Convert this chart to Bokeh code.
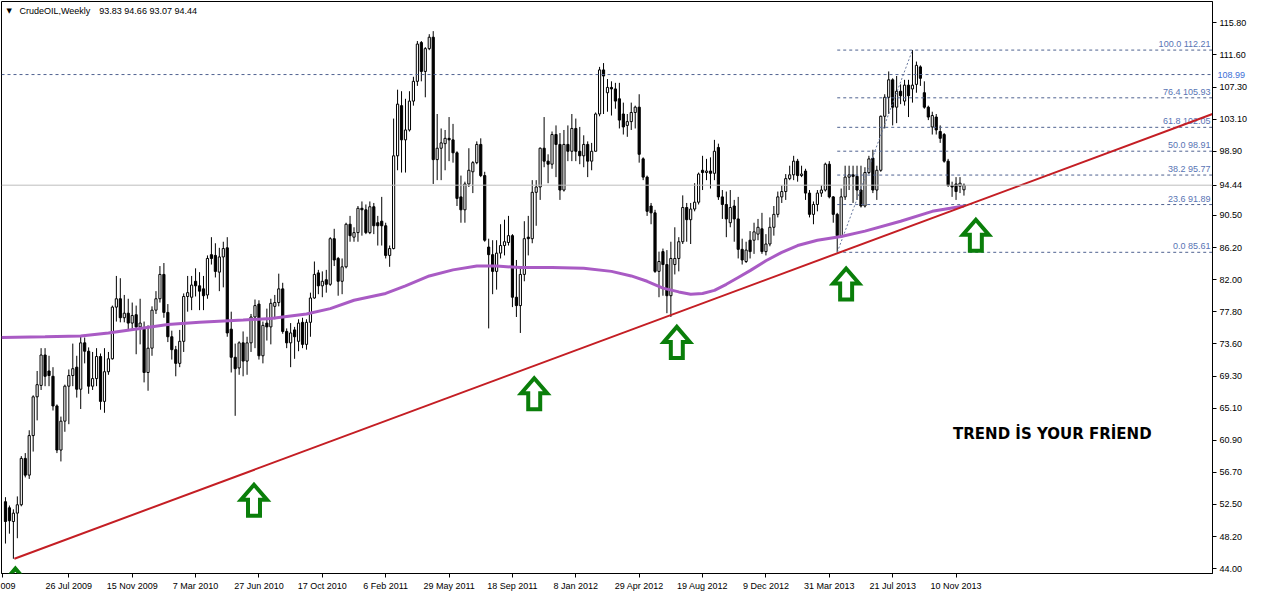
from bokeh.plotting import figure
from bokeh.models import (Range1d, FixedTicker, PrintfTickFormatter, Span, Label, LinearAxis,
                          PolyAnnotation, ColumnDataSource)
from bokeh.embed import file_html
from bokeh.resources import INLINE
from bokeh.core.properties import value

# ---------------- data (weekly bars, index 0 = first visible week) ----------------
opens = [52.8, 52.0, 50.2, 51.3, 52.4, 58.5, 56.3, 61.5, 66.6, 68.1,
         72.1, 70.0, 69.3, 65.4, 59.6, 63.4, 68.0, 69.4, 70.5, 67.6,
         73.7, 72.6, 68.0, 69.0, 71.9, 66.0, 69.9, 71.6, 78.4, 79.5,
         77.0, 77.6, 76.3, 77.4, 75.8, 75.5, 69.8, 73.0, 78.0, 79.5,
         82.7, 77.7, 74.5, 72.8, 71.0, 73.9, 79.8, 79.7, 81.8, 81.2,
         80.8, 80.0, 85.3, 85.2, 83.0, 85.0, 86.2, 75.5, 71.8, 70.4,
         73.7, 71.3, 73.7, 77.1, 78.8, 72.0, 76.3, 75.8, 78.5, 79.0,
         80.8, 75.2, 73.7, 75.4, 73.9, 76.4, 73.5, 76.4, 79.6, 82.9,
         81.2, 82.0, 81.4, 87.4, 84.8, 81.8, 83.7, 89.3, 87.6, 88.2,
         91.4, 91.2, 88.2, 91.6, 89.5, 89.7, 89.1, 85.2, 86.1, 98.3,
         104.9, 100.4, 101.7, 105.5, 108.1, 113.2, 109.4, 112.4, 113.9, 97.8,
         99.3, 99.9, 100.6, 100.4, 98.7, 92.9, 91.2, 94.6, 96.2, 97.4,
         99.8, 95.7, 86.3, 85.3, 83.1, 85.5, 86.5, 86.9, 87.8, 79.7,
         78.6, 82.7, 87.6, 87.4, 93.5, 94.2, 99.3, 97.6, 97.2, 101.1,
         99.8, 93.8, 99.8, 98.9, 101.9, 98.9, 98.3, 99.8, 97.6, 98.9,
         103.8, 109.6, 106.6, 107.3, 107.1, 105.8, 103.8, 102.3, 102.8, 104.0,
         104.7, 97.9, 95.5, 91.7, 90.8, 83.1, 85.7, 84.0, 79.9, 84.0,
         84.8, 87.0, 91.5, 89.9, 91.3, 92.2, 96.4, 96.1, 96.3, 96.0,
         99.4, 92.9, 91.9, 89.5, 91.7, 90.0, 86.0, 84.4, 87.2, 87.2,
         88.0, 88.7, 85.7, 86.7, 88.9, 90.6, 92.9, 93.6, 95.3, 95.8,
         97.6, 95.7, 96.3, 93.4, 90.6, 91.9, 93.4, 93.8, 97.2, 92.9,
         90.6, 87.8, 92.9, 95.5, 95.8, 95.6, 93.8, 91.7, 96.1, 98.0,
         93.8, 96.4, 103.5, 106.0, 108.3, 104.7, 106.8, 105.5, 107.6, 107.1,
         107.7, 110.0, 106.6, 104.7, 102.1, 103.4, 101.5, 101.1, 97.6, 94.4,
         94.6, 94.3, 93.83]
highs = [53.4, 52.3, 51.8, 53.5, 58.8, 59.2, 62.2, 66.8, 70.0, 73.0,
         73.0, 72.0, 70.5, 65.6, 64.0, 68.2, 70.2, 73.6, 72.0, 74.6,
         74.4, 73.1, 72.5, 73.0, 72.3, 73.0, 72.5, 78.6, 82.5, 82.2,
         80.0, 79.5, 79.0, 78.6, 79.5, 76.5, 76.0, 78.5, 80.5, 83.8,
         84.2, 78.8, 75.3, 73.3, 75.4, 80.2, 82.5, 82.5, 83.5, 83.0,
         82.5, 85.2, 87.6, 86.8, 86.2, 87.0, 87.6, 77.8, 73.6, 73.9,
         75.2, 74.5, 77.5, 79.4, 79.3, 76.5, 78.2, 79.5, 80.0, 82.8,
         81.6, 75.6, 76.3, 75.8, 76.8, 77.0, 76.8, 80.3, 84.4, 83.3,
         83.1, 83.3, 87.6, 88.7, 85.0, 84.8, 89.5, 90.4, 88.9, 91.7,
         92.3, 91.9, 92.3, 92.1, 90.4, 92.9, 89.5, 86.5, 103.2, 107.0,
         106.8, 105.8, 106.8, 108.7, 113.4, 113.4, 112.6, 114.3, 114.7, 103.8,
         101.9, 101.7, 103.4, 102.5, 98.9, 95.7, 94.9, 99.3, 97.6, 100.2,
         100.6, 96.2, 87.4, 87.2, 87.2, 89.3, 89.9, 90.4, 88.0, 84.6,
         83.8, 89.7, 90.4, 95.1, 95.1, 99.4, 103.4, 98.5, 101.5, 102.3,
         101.3, 101.7, 102.3, 103.8, 103.2, 102.1, 101.0, 100.2, 100.0, 104.0,
         110.0, 110.5, 108.4, 108.1, 107.9, 107.9, 105.3, 103.8, 105.3, 104.9,
         106.4, 98.1, 95.7, 92.1, 91.2, 85.7, 86.1, 85.9, 87.0, 88.9,
         87.6, 93.1, 92.1, 92.1, 94.7, 96.1, 98.3, 97.9, 98.1, 100.4,
         99.9, 93.8, 93.6, 93.8, 92.5, 92.9, 87.4, 87.0, 88.4, 89.5,
         90.0, 90.8, 88.0, 90.2, 91.7, 93.6, 94.4, 95.9, 97.0, 98.3,
         97.9, 97.0, 96.6, 93.8, 92.3, 93.8, 94.4, 97.4, 97.6, 93.0,
         90.8, 94.0, 97.0, 97.0, 97.0, 97.0, 97.0, 96.8, 98.3, 99.1,
         97.0, 103.6, 106.4, 109.4, 108.5, 108.8, 107.7, 108.3, 108.3, 112.21,
         110.7, 110.2, 108.1, 104.9, 104.1, 103.8, 102.3, 101.3, 97.9, 94.9,
         95.5, 95.5, 94.66]
lows = [47.3, 48.6, 45.3, 48.0, 52.2, 56.0, 55.8, 59.4, 63.5, 67.5,
        68.0, 68.0, 64.8, 59.2, 58.1, 62.0, 63.0, 68.0, 66.5, 65.0,
        71.0, 67.0, 67.5, 68.0, 64.9, 64.5, 69.5, 71.5, 76.5, 76.4,
        76.4, 75.5, 75.5, 72.2, 73.5, 68.5, 67.4, 72.0, 77.5, 79.0,
        77.0, 73.8, 71.5, 69.3, 70.5, 72.5, 77.8, 78.0, 79.8, 78.0,
        78.0, 79.5, 84.0, 82.3, 80.5, 81.0, 74.5, 69.8, 64.1, 69.5,
        69.3, 69.5, 72.5, 73.0, 71.5, 71.0, 74.0, 73.5, 76.8, 78.5,
        74.9, 73.0, 70.5, 71.6, 72.6, 73.0, 72.8, 74.5, 79.5, 80.1,
        79.7, 80.3, 81.2, 83.8, 79.9, 80.1, 83.5, 87.0, 87.0, 87.0,
        87.8, 88.0, 88.0, 88.0, 86.5, 86.5, 84.8, 83.7, 86.0, 96.4,
        96.1, 96.1, 101.5, 104.9, 107.5, 108.1, 106.0, 112.2, 94.6, 95.1,
        95.1, 96.4, 97.6, 97.4, 91.7, 89.5, 89.5, 94.2, 93.4, 97.2,
        95.5, 87.0, 75.6, 80.1, 80.7, 84.8, 85.2, 86.5, 78.4, 77.1,
        75.0, 81.8, 85.2, 86.8, 89.1, 92.5, 96.8, 94.7, 96.6, 95.5,
        92.5, 93.6, 97.6, 97.6, 97.6, 97.2, 96.8, 95.5, 96.4, 98.9,
        103.5, 103.8, 104.1, 103.6, 104.5, 101.9, 101.1, 100.8, 101.7, 101.9,
        97.4, 95.1, 90.4, 89.3, 82.9, 79.7, 79.9, 77.6, 77.1, 82.7,
        83.1, 86.7, 87.0, 86.7, 91.0, 91.9, 93.8, 95.1, 94.0, 95.1,
        92.5, 90.0, 87.6, 88.9, 87.0, 84.8, 84.0, 84.2, 84.8, 85.4,
        87.2, 85.4, 85.2, 86.4, 87.8, 90.2, 92.1, 92.5, 95.1, 95.1,
        94.9, 95.5, 92.5, 90.2, 89.3, 91.0, 92.9, 93.6, 92.7, 89.5,
        85.61, 87.6, 92.5, 93.8, 92.1, 92.5, 91.5, 91.5, 95.9, 93.4,
        92.5, 96.2, 101.9, 103.8, 102.3, 102.6, 105.1, 104.9, 103.4, 105.3,
        106.6, 107.5, 104.5, 103.0, 101.1, 101.1, 100.0, 97.4, 94.2, 92.9,
        92.5, 93.4, 93.07]
closes = [50.2, 50.3, 51.3, 52.4, 58.5, 56.3, 61.5, 66.6, 68.2, 72.1,
          69.3, 69.4, 65.4, 59.6, 63.4, 68.0, 69.4, 70.3, 67.6, 73.7,
          72.6, 68.0, 69.0, 71.9, 66.0, 69.9, 71.6, 78.4, 79.5, 77.0,
          77.6, 76.3, 77.3, 75.8, 76.3, 69.8, 73.0, 78.0, 79.5, 82.7,
          77.7, 74.5, 72.8, 71.0, 73.9, 79.8, 80.3, 81.3, 81.2, 80.5,
          79.9, 84.8, 84.8, 83.1, 85.0, 86.1, 75.0, 71.8, 70.3, 73.7,
          71.3, 73.7, 77.1, 78.6, 72.0, 76.0, 75.8, 78.9, 79.0, 80.8,
          75.2, 73.7, 75.0, 74.5, 76.3, 73.5, 76.4, 79.6, 82.7, 81.2,
          81.8, 81.4, 87.4, 84.6, 81.8, 83.7, 89.3, 87.8, 88.2, 91.4,
          91.2, 88.2, 91.6, 89.1, 89.1, 89.1, 85.2, 86.1, 98.3, 105.1,
          100.4, 101.7, 105.5, 108.1, 113.0, 109.4, 112.4, 113.9, 97.8, 99.3,
          100.0, 100.6, 100.4, 98.7, 92.7, 91.2, 94.6, 96.4, 97.4, 99.8,
          95.7, 87.2, 85.3, 83.1, 85.5, 86.5, 87.0, 87.8, 79.7, 78.6,
          82.7, 87.4, 87.4, 93.5, 94.2, 99.3, 97.6, 97.2, 101.1, 99.8,
          93.8, 99.8, 98.9, 101.9, 98.9, 98.3, 99.8, 97.6, 98.9, 103.8,
          109.6, 108.8, 107.3, 107.1, 105.5, 103.0, 102.1, 102.8, 104.0, 104.7,
          98.5, 95.5, 91.0, 90.8, 83.1, 84.4, 84.0, 79.9, 84.8, 84.8,
          87.0, 91.5, 89.9, 91.3, 92.2, 95.9, 96.1, 96.3, 96.0, 98.9,
          92.9, 91.9, 90.0, 91.5, 90.0, 86.0, 84.6, 85.9, 85.7, 88.3,
          88.9, 85.7, 86.7, 88.9, 90.6, 92.9, 93.6, 95.3, 95.8, 97.6,
          95.7, 95.9, 93.4, 90.6, 91.9, 93.4, 93.8, 97.2, 92.9, 90.6,
          87.8, 92.9, 95.5, 95.8, 95.6, 93.8, 91.7, 96.1, 97.9, 93.8,
          96.4, 103.5, 106.0, 108.3, 104.7, 106.8, 106.2, 107.6, 106.2, 107.6,
          110.2, 108.5, 104.7, 103.4, 103.6, 101.7, 100.6, 97.6, 94.4, 94.2,
          93.6, 94.7, 94.44]

date_ticks = [16, 32, 48, 64, 80, 96, 112, 128, 144, 160, 176, 192, 208, 224, 240]
date_labels = ["26 Jul 2009", "15 Nov 2009", "7 Mar 2010", "27 Jun 2010", "17 Oct 2010",
               "6 Feb 2011", "29 May 2011", "18 Sep 2011", "8 Jan 2012", "29 Apr 2012",
               "19 Aug 2012", "9 Dec 2012", "31 Mar 2013", "21 Jul 2013", "10 Nov 2013"]
cut_tick, cut_label = -0.75, "009"

price_ticks = [44.00, 48.20, 52.50, 56.70, 60.90, 65.10, 69.30, 73.60, 77.80, 82.00,
               86.20, 90.50, 98.90, 103.10, 107.30, 111.60, 115.80]

ma_idx = [-1, 10, 19, 26, 34, 41, 49, 60, 67, 76, 82, 88, 96, 101, 107, 113, 119, 124,
          130, 138, 146, 153, 158, 162, 166, 170, 173, 176, 179, 182, 185, 188, 192, 196,
          200, 205, 211, 217, 226, 234, 242]
ma_val = [74.4, 74.5, 74.6, 75.0, 75.6, 76.1, 76.4, 76.7, 76.9, 77.5, 78.2, 79.3, 80.2, 81.2,
          82.5, 83.3, 83.8, 83.8, 83.6, 83.6, 83.5, 83.1, 82.5, 81.8, 80.9, 80.4, 80.1, 80.2,
          80.6, 81.4, 82.3, 83.2, 84.5, 85.6, 86.5, 87.2, 87.7, 88.4, 89.7, 91.0, 91.7]

trend_idx = [2.25, 304.75]
trend_val = [45.3, 103.8]

fib_pct = [0.0, 23.6, 38.2, 50.0, 61.8, 76.4, 100.0]
fib_val = [85.61, 91.89, 95.77, 98.91, 102.05, 105.93, 112.21]
fib_low_bar, fib_high_bar = 210, 229

hline_level = 108.99

arrow_idx = [2.5, 62.75, 133.5, 169.5, 212.25, 245.0]
arrow_val = [44.26, 55.3, 69.3, 76.06, 83.75, 90.16]

note_text = "TREND İS YOUR FRİEND"
note_idx, note_val = 239.25, 61.7

symbol_name = "CrudeOIL,Weekly"

# ---------------- layout ----------------
W, H = 1250, 593
BR, BB, BL, BT = 36, 20, 1, 1
X0, X1 = -1.0, 304.75
Y0, Y1 = 43.36, 118.6
FRAME_W = W - BR - BL
FRAME_H = H - BB - BT
ppx = FRAME_W / (X1 - X0)
ppy = FRAME_H / (Y1 - Y0)

FONT = "Liberation Sans"
FIB_LINE = "#4F6290"
FIB_TEXT = "#5874B4"
GREEN = "#0A7E0A"
RED = "#C41E24"
PURPLE = "#A95BC4"
TAG_BLUE = "#3D6FD6"

p = figure(width=W, height=H, x_range=Range1d(X0, X1), y_range=Range1d(Y0, Y1),
           y_axis_location="right", output_backend="svg", toolbar_location=None,
           min_border_left=BL, min_border_top=BT, min_border_right=BR, min_border_bottom=BB,
           background_fill_color="white", border_fill_color="white")
p.grid.visible = False
p.outline_line_color = "black"
p.outline_line_width = 1

# x axis
xa = p.xaxis[0]
xa.ticker = FixedTicker(ticks=[cut_tick] + date_ticks)
overrides = {cut_tick: cut_label}
for t, s in zip(date_ticks, date_labels):
    overrides[t] = s
xa.major_label_overrides = overrides
xa.major_label_text_align = "left"
xa.major_label_text_font = FONT
xa.major_label_text_font_size = "9px"
xa.major_label_text_color = "black"
xa.major_label_standoff = 3
xa.major_tick_in = 0
xa.major_tick_out = 4
xa.minor_tick_out = 0
xa.minor_tick_in = 0
xa.axis_line_color = "black"
xa.major_tick_line_color = "black"


def style_y(ax):
    ax.formatter = PrintfTickFormatter(format="%.2f")
    ax.major_label_text_font = FONT
    ax.major_label_text_font_size = "9px"
    ax.minor_tick_out = 0
    ax.minor_tick_in = 0
    ax.major_tick_in = 0


# main y axis (includes the current price)
ya = p.yaxis[0]
style_y(ya)
ya.ticker = FixedTicker(ticks=sorted(price_ticks + [closes[-1]]))
ya.major_label_text_color = "black"
ya.major_label_standoff = 3
ya.major_tick_out = 4
ya.axis_line_color = "black"
ya.major_tick_line_color = "black"

# price tag for the horizontal line: zero-width extra axis laid over the main labels
tag_axis = LinearAxis(ticker=FixedTicker(ticks=[hline_level]))
style_y(tag_axis)
tag_axis.axis_line_color = None
tag_axis.major_tick_line_color = None
tag_axis.major_tick_out = 0
tag_axis.major_label_standoff = -33
tag_axis.major_label_text_color = TAG_BLUE
p.add_layout(tag_axis, "right")

# reference lines
p.add_layout(Span(location=closes[-1], dimension="width", line_color="#BDBDBD", line_width=1))
p.add_layout(Span(location=hline_level, dimension="width", line_color=FIB_LINE,
                  line_width=1, line_dash="3 3"))

# candles
n = len(closes)
idx = list(range(n))
src = ColumnDataSource(dict(
    x=idx, h=highs, l=lows,
    top=[max(o, c) for o, c in zip(opens, closes)],
    bot=[min(o, c) for o, c in zip(opens, closes)],
    fill=["white" if c >= o else "black" for o, c in zip(opens, closes)],
))
p.segment(x0="x", y0="l", x1="x", y1="h", source=src, line_color="black", line_width=1)
p.vbar(x="x", width=0.55, top="top", bottom="bot", source=src,
       fill_color="fill", line_color="black", line_width=1)

# fibonacci retracement
p.segment(x0=[fib_low_bar] * len(fib_val), y0=fib_val, x1=[X1] * len(fib_val), y1=fib_val,
          line_color=FIB_LINE, line_width=1, line_dash="3 3")
p.line([fib_low_bar, fib_high_bar], [fib_val[0], fib_val[-1]], line_color="#6A7AA0",
       line_width=1, line_dash="2 2")
fib_src = ColumnDataSource(dict(
    x=[X1 - 2 / ppx] * len(fib_val),
    y=[v + 1 / ppy for v in fib_val],
    t=[f"{a:.1f} {v:.2f}" for a, v in zip(fib_pct, fib_val)],
))
p.text(x="x", y="y", text="t", source=fib_src, text_align="right", text_baseline="bottom",
       text_font=value(FONT), text_font_size="9px", text_color=FIB_TEXT)

# moving average and trend line
p.line(ma_idx, ma_val, line_color=PURPLE, line_width=3)
p.line(trend_idx, trend_val, line_color=RED, line_width=2)

# green arrows (hollow up arrows, tip at given point)
shape = [(0, 0), (13, 15), (6, 15), (6, 31), (-6, 31), (-6, 15), (-13, 15)]
for ai, av in zip(arrow_idx, arrow_val):
    xs = [ai + dx / ppx for dx, dy in shape]
    ys = [av - (dy + 2) / ppy for dx, dy in shape]
    p.add_layout(PolyAnnotation(xs=xs, ys=ys, xs_units="data", ys_units="data",
                                line_color=GREEN, line_alpha=1.0, line_width=4,
                                line_join="miter", fill_alpha=0))

# note text
p.add_layout(Label(x=note_idx, y=note_val, text=note_text, text_font="DejaVu Sans",
                   text_font_style="bold", text_font_size="15px", text_color="black",
                   text_align="left", text_baseline="middle"))

# title
ty = Y1 - 9 / ppy
p.add_layout(Label(x=X0 + 5 / ppx, y=ty, text="▼", text_font="DejaVu Sans",
                   text_font_size="7px", text_color="black", text_baseline="middle"))
p.add_layout(Label(x=X0 + 18 / ppx, y=ty, text=symbol_name, text_font=FONT,
                   text_font_size="9px", text_color="black", text_baseline="middle"))
p.add_layout(Label(x=X0 + 98 / ppx, y=ty,
                   text=f"{opens[-1]:.2f} {highs[-1]:.2f} {lows[-1]:.2f} {closes[-1]:.2f}",
                   text_font=FONT, text_font_size="9px", text_color="black",
                   text_baseline="middle"))

open("out.html", "w").write(file_html(p, INLINE))
